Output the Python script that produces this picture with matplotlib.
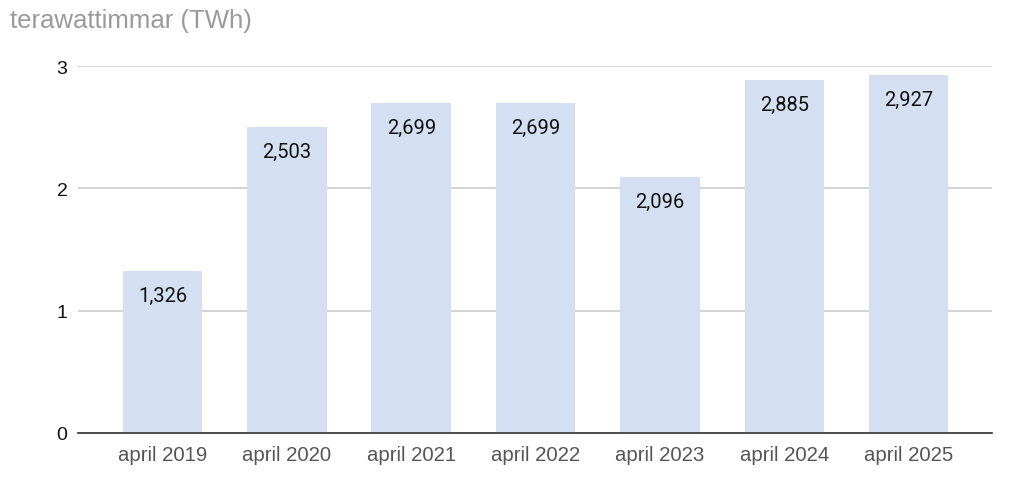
import numpy as np
import matplotlib
matplotlib.use('Agg')
from matplotlib import pyplot as plt

plt.rcParams['font.family'] = ['Liberation Sans', 'DejaVu Sans']

# data
labels = ['april 2019', 'april 2020', 'april 2021', 'april 2022', 'april 2023', 'april 2024', 'april 2025']
values = [1.326, 2.503, 2.699, 2.699, 2.096, 2.885, 2.927]
value_text = ['1,326', '2,503', '2,699', '2,699', '2,096', '2,885', '2,927']

fig = plt.figure(figsize=(10.24, 4.89), dpi=100)
ax = fig.add_axes((78 / 1024, 1 - 434 / 489, (992 - 78) / 1024, (434 - 67) / 489))

X = np.arange(len(labels))
ax.bar(X, values, width=0.64, color='#d4e0f2', zorder=2)

for x, v, t in zip(X, values, value_text):
    ax.annotate(t, (x, v), xytext=(0, -11), textcoords='offset points',
                ha='center', va='top', fontsize=14.5, color='#111111',
                family=['Roboto', 'DejaVu Sans'], zorder=3)

ax.set_xlim(-0.68, 6.67)
ax.set_ylim(0, 3)
ax.set_yticks([0, 1, 2, 3])
ax.set_xticks(X)
ax.set_xticklabels(labels)
ax.yaxis.grid(True, color='#cccccc', linewidth=1.2, zorder=0)
ax.set_axisbelow(True)

for s in ['top', 'right', 'left']:
    ax.spines[s].set_visible(False)
ax.spines['bottom'].set_color('#333333')
ax.spines['bottom'].set_linewidth(1.2)
ax.spines['bottom'].set_zorder(4)

ax.tick_params(axis='x', length=0, pad=9, labelsize=14.7, labelcolor='#555555')
ax.tick_params(axis='y', length=0, pad=7.5, labelsize=14, labelcolor='#111111')

fig.text(10 / 1024, 1 - 21 / 489, 'terawattimmar (TWh)', fontsize=18.5, color='#9a9a9a',
         ha='left', va='center')

fig.savefig('out.png', dpi=100)
